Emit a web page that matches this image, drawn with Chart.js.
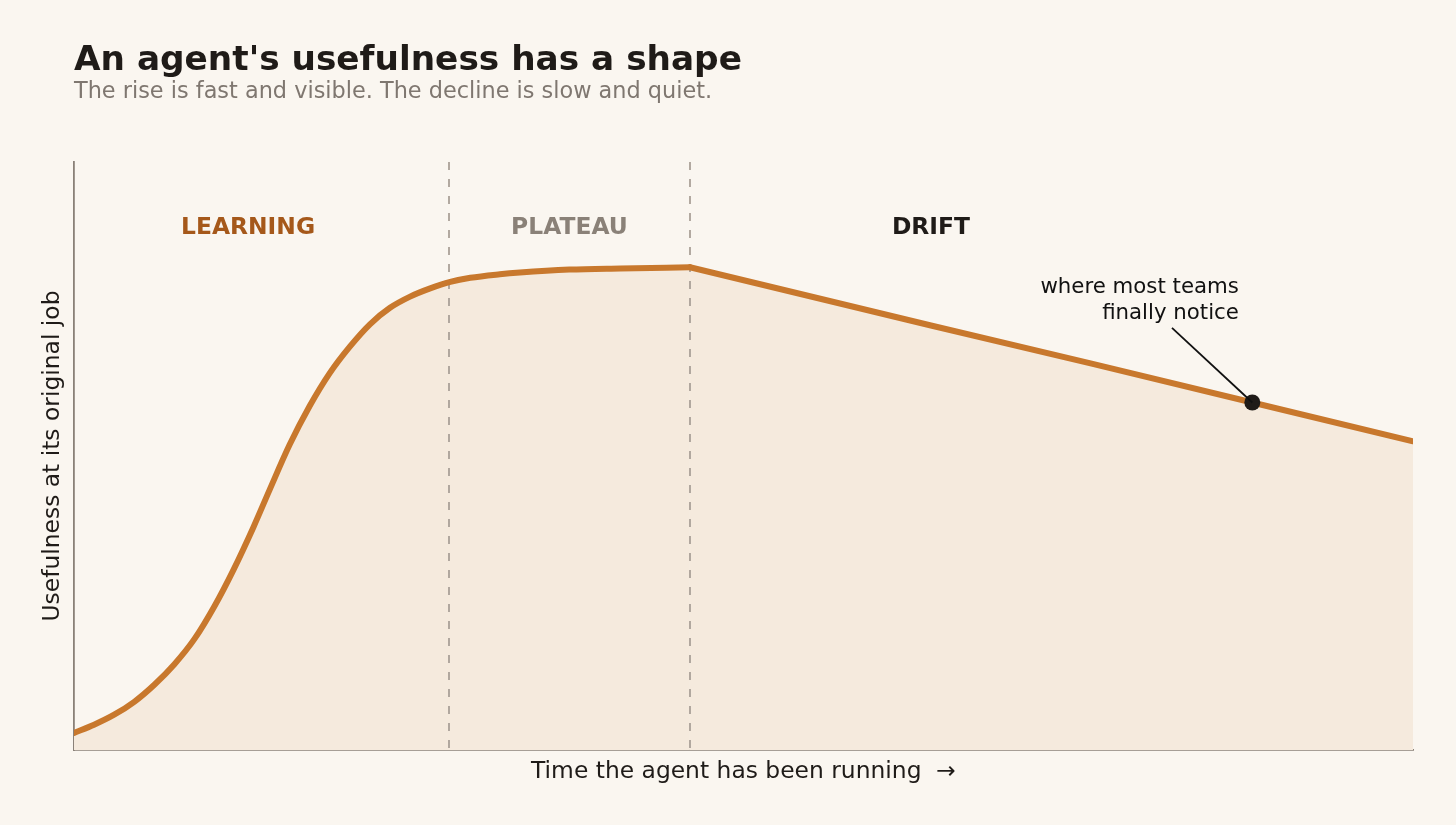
<!DOCTYPE html>
<html>
<head>
<meta charset="utf-8">
<title>An agent's usefulness has a shape</title>
<script src="https://cdn.jsdelivr.net/npm/chart.js@4.4.1/dist/chart.umd.min.js"></script>
<style>
  html, body { margin: 0; padding: 0; background: #faf6f0; }
  #wrap { width: 1456px; height: 825px; position: relative; }
</style>
</head>
<body>
<div id="wrap"><canvas id="shapeChart"></canvas></div>
<script>
// data (time and usefulness on a 0-100 scale)
// rise: learning + plateau, smooth curve
const riseTime = [0, 1.5, 3, 4.5, 6, 7.5, 9, 10.5, 11.9, 13.4, 14.6, 16.1, 17.6, 19.1, 20.6, 22.1, 23.6, 25.1, 26.6, 28.1, 29.6, 31.8, 33.3, 37, 40.8, 46];
const riseValue = [2.9, 4.3, 6.0, 8.2, 11.1, 14.6, 18.9, 24.5, 30.6, 37.9, 44.2, 51.9, 58.5, 64.1, 68.6, 72.4, 75.2, 77.1, 78.5, 79.6, 80.3, 80.9, 81.2, 81.7, 81.9, 82.1];
// drift: straight decline after the plateau
const driftTime = [46, 64, 76, 88, 100];
const driftValue = [82.1, 72.2, 65.7, 59.1, 52.5];

const phaseNames = ['LEARNING', 'PLATEAU', 'DRIFT'];
const phaseCenters = [13, 37, 64];
const phaseBoundaries = [28, 46];

const noticeTime = [88];
const noticeValue = [59.1];
const noticeText = ['where most teams', 'finally notice'];

const titleText = "An agent's usefulness has a shape";
const subtitleText = 'The rise is fast and visible. The decline is slow and quiet.';

const FONT = '"DejaVu Sans", "Noto Sans", sans-serif';
const phaseColors = ['#a5581a', '#8a8178', '#1f1b18'];
const LINE = '#c8782d';
const AREA = '#f5eadd';

const toPoints = (xs, ys) => xs.map((x, i) => ({ x: x, y: ys[i] }));

// titles, phase lines/labels and the annotation
const decorPlugin = {
  id: 'decor',
  beforeDatasetsDraw(chart) {
    // runs after the filler has painted the area, before the line
    const { ctx, chartArea, scales } = chart;
    ctx.save();
    ctx.strokeStyle = '#aaa198';
    ctx.lineWidth = 1.8;
    ctx.setLineDash([8, 9]);
    phaseBoundaries.forEach(b => {
      const x = Math.round(scales.x.getPixelForValue(b));
      ctx.beginPath();
      ctx.moveTo(x, chartArea.top);
      ctx.lineTo(x, chartArea.bottom);
      ctx.stroke();
    });
    ctx.restore();
  },
  afterDatasetsDraw(chart) {
    const { ctx, chartArea, scales } = chart;
    ctx.save();
    // phase labels
    ctx.font = 'bold 23.4px ' + FONT;
    ctx.textAlign = 'center';
    ctx.textBaseline = 'middle';
    const labelY = scales.y.getPixelForValue(88.8);
    phaseNames.forEach((name, i) => {
      ctx.fillStyle = phaseColors[i];
      ctx.fillText(name, scales.x.getPixelForValue(phaseCenters[i]), labelY);
    });

    // annotation
    const px = scales.x.getPixelForValue(noticeTime[0]);
    const py = scales.y.getPixelForValue(noticeValue[0]);
    ctx.strokeStyle = '#111';
    ctx.lineWidth = 1.8;
    ctx.beginPath();
    ctx.moveTo(scales.x.getPixelForValue(82), scales.y.getPixelForValue(71.8));
    ctx.lineTo(px, py);
    ctx.stroke();

    ctx.font = '21.3px ' + FONT;
    ctx.fillStyle = '#111';
    ctx.textAlign = 'right';
    const tx = scales.x.getPixelForValue(87);
    ctx.fillText(noticeText[0], tx, scales.y.getPixelForValue(78.7));
    ctx.fillText(noticeText[1], tx, scales.y.getPixelForValue(74.3));

    // title + subtitle
    ctx.textAlign = 'left';
    ctx.textBaseline = 'alphabetic';
    ctx.fillStyle = '#1f1b18';
    ctx.font = 'bold 34.3px ' + FONT;
    ctx.fillText(titleText, chartArea.left, 70);
    ctx.fillStyle = '#7f7770';
    ctx.font = '22.4px ' + FONT;
    ctx.fillText(subtitleText, chartArea.left, 98);
    ctx.restore();
  }
};

document.addEventListener('DOMContentLoaded', function() {
  const canvas = document.getElementById('shapeChart');
  if (!canvas || typeof Chart === 'undefined') {
    console.warn('Chart.js not loaded.');
    return;
  }
  new Chart(canvas.getContext('2d'), {
    type: 'line',
    data: {
      datasets: [
        {
          type: 'scatter',
          data: toPoints(noticeTime, noticeValue),
          pointRadius: 8,
          pointBackgroundColor: '#1f1b18',
          pointBorderColor: '#1f1b18',
          pointBorderWidth: 0,
          order: 0
        },
        {
          data: toPoints(riseTime, riseValue),
          borderColor: LINE,
          borderWidth: 6,
          borderCapStyle: 'round',
          backgroundColor: AREA,
          fill: 'origin',
          cubicInterpolationMode: 'monotone',
          pointRadius: 0,
          order: 1
        },
        {
          data: toPoints(driftTime, driftValue),
          borderColor: LINE,
          borderWidth: 6,
          borderCapStyle: 'round',
          backgroundColor: AREA,
          fill: 'origin',
          tension: 0,
          pointRadius: 0,
          order: 1
        }
      ]
    },
    options: {
      responsive: true,
      maintainAspectRatio: false,
      animation: false,
      layout: { padding: { top: 162, right: 43, bottom: 0, left: 0 } },
      plugins: {
        legend: { display: false },
        tooltip: { enabled: false },
        filler: { drawTime: 'beforeDatasetsDraw' }
      },
      scales: {
        x: {
          type: 'linear',
          min: 0,
          max: 100,
          z: 1,
          grid: { display: false },
          border: { display: true, color: '#8a8178', width: 1.8 },
          ticks: { display: false },
          title: {
            display: true,
            text: 'Time the agent has been running  \u2192',
            color: '#1f1b18',
            font: { family: FONT, size: 23.4 },
            padding: { top: 0, bottom: 39 }
          },
          afterFit: s => { s.height = 75; }
        },
        y: {
          min: 0,
          max: 100,
          z: 1,
          grid: { display: false },
          border: { display: true, color: '#8a8178', width: 1.8 },
          ticks: { display: false },
          title: {
            display: true,
            text: 'Usefulness at its original job',
            color: '#1f1b18',
            font: { family: FONT, size: 23.4 },
            padding: { top: 39, bottom: 0 }
          },
          afterFit: s => { s.width = 74; }
        }
      }
    },
    plugins: [decorPlugin]
  });
});
</script>
</body>
</html>
